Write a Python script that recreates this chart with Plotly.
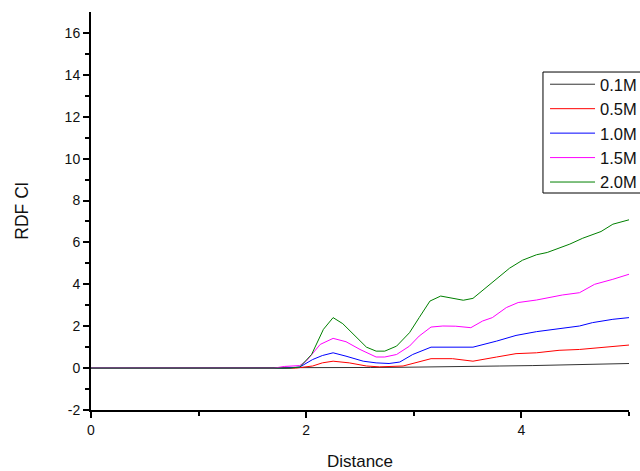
import plotly.graph_objects as go

names = ["0.1M", "0.5M", "1.0M", "1.5M", "2.0M"]
colors = ["#333333", "#ff0000", "#0000ff", "#ff00ff", "#008000"]

x_01 = [0, 2.0, 2.3, 2.6, 2.9, 3.2, 3.5, 3.8, 4.1, 4.4, 4.7, 5.0]
y_01 = [0, 0, 0.02, 0.03, 0.04, 0.05, 0.07, 0.1, 0.12, 0.15, 0.18, 0.22]

x_05 = [0, 1.9, 2.06, 2.15, 2.25, 2.4, 2.56, 2.68, 2.9, 3.02, 3.16, 3.36, 3.55, 3.77, 3.95, 4.14, 4.35, 4.54, 4.75, 5.0]
y_05 = [0, 0, 0.1, 0.25, 0.33, 0.25, 0.1, 0.06, 0.1, 0.25, 0.45, 0.45, 0.33, 0.53, 0.69, 0.73, 0.85, 0.89, 0.97, 1.1]

x_10 = [0, 1.8, 1.94, 2.06, 2.15, 2.25, 2.37, 2.53, 2.65, 2.77, 2.87, 2.99, 3.16, 3.33, 3.55, 3.77, 3.95, 4.14, 4.32, 4.54, 4.66, 4.85, 5.0]
y_10 = [0, 0, 0.05, 0.41, 0.6, 0.73, 0.57, 0.33, 0.25, 0.22, 0.29, 0.65, 1.0, 1.0, 1.0, 1.29, 1.56, 1.74, 1.85, 2.01, 2.17, 2.33, 2.41]

x_15 = [0, 1.7, 1.8, 1.94, 2.0, 2.13, 2.25, 2.37, 2.5, 2.65, 2.73, 2.84, 2.96, 3.05, 3.16, 3.27, 3.39, 3.53, 3.64, 3.73, 3.86, 3.97, 4.14, 4.29, 4.38, 4.54, 4.68, 4.85, 5.0]
y_15 = [0, 0, 0.08, 0.12, 0.33, 1.13, 1.42, 1.26, 0.89, 0.53, 0.53, 0.65, 1.05, 1.53, 1.96, 2.01, 2.0, 1.93, 2.25, 2.41, 2.89, 3.13, 3.25, 3.4, 3.49, 3.6, 4.0, 4.24, 4.48]

x_20 = [0, 1.85, 1.94, 2.05, 2.16, 2.25, 2.34, 2.47, 2.56, 2.65, 2.73, 2.84, 2.96, 3.05, 3.15, 3.25, 3.35, 3.46, 3.55, 3.67, 3.8, 3.89, 4.01, 4.14, 4.24, 4.35, 4.45, 4.57, 4.74, 4.85, 5.0]
y_20 = [0, 0, 0.05, 0.65, 1.85, 2.41, 2.12, 1.45, 1.0, 0.81, 0.81, 1.05, 1.69, 2.41, 3.2, 3.44, 3.33, 3.24, 3.33, 3.84, 4.35, 4.77, 5.15, 5.41, 5.52, 5.71, 5.92, 6.2, 6.52, 6.87, 7.08]

xs = [x_01, x_05, x_10, x_15, x_20]
ys = [y_01, y_05, y_10, y_15, y_20]

y_ticks = [-2, 0, 2, 4, 6, 8, 10, 12, 14, 16]
y_ticktext = ["-2", "0", "2", "4", "6", "8", "10", "12", "14", "16"]
x_ticks = [0, 2, 4]
x_ticktext = ["0", "2", "4"]

fig = go.Figure()
for n, c, xv, yv in zip(names, colors, xs, ys):
    fig.add_trace(go.Scatter(x=xv, y=yv, mode="lines", name=n,
                             line=dict(color=c, width=1)))

font = "Liberation Sans, Arial, sans-serif"
fig.update_layout(
    width=640, height=471,
    paper_bgcolor="white", plot_bgcolor="white",
    margin=dict(l=91, r=11, t=12, b=61, autoexpand=False),
    font=dict(family=font, color="#111111"),
    xaxis=dict(range=[0, 5], tickvals=x_ticks, ticktext=x_ticktext, ticks="outside", ticklen=6, tickwidth=1.5,
               tickcolor="black", showline=True, linecolor="black", linewidth=2,
               showgrid=False, zeroline=False, tickfont=dict(size=14),
               minor=dict(tickvals=[1, 3, 5], ticks="outside", ticklen=4, tickcolor="black", tickwidth=1.5),
               title=dict(text="Distance", font=dict(size=17), standoff=18)),
    yaxis=dict(range=[-2, 17], tickvals=y_ticks, ticktext=y_ticktext, ticks="outside", ticklen=6,
               tickwidth=1.5, tickcolor="black", showline=True, linecolor="black", linewidth=2,
               showgrid=False, zeroline=False, tickfont=dict(size=14),
               minor=dict(tickvals=[-1, 1, 3, 5, 7, 9, 11, 13, 15], ticks="outside", ticklen=4,
                          tickcolor="black", tickwidth=1.5),
               title=dict(text="RDF Cl", font=dict(size=17.5), standoff=31)),
    legend=dict(x=0.8439, y=0.8618, xanchor="left", yanchor="top", borderwidth=0,
                bgcolor="rgba(0,0,0,0)", font=dict(size=16.5, color="#111111"), itemwidth=45,
                tracegroupgap=0),
    shapes=[dict(type="rect", xref="paper", yref="paper", x0=0.8401, x1=1.2, y0=0.5452, y1=0.8492,
                 line=dict(color="black", width=1), fillcolor="white", layer="above")],
    showlegend=True,
)

fig.write_html("out.html")
